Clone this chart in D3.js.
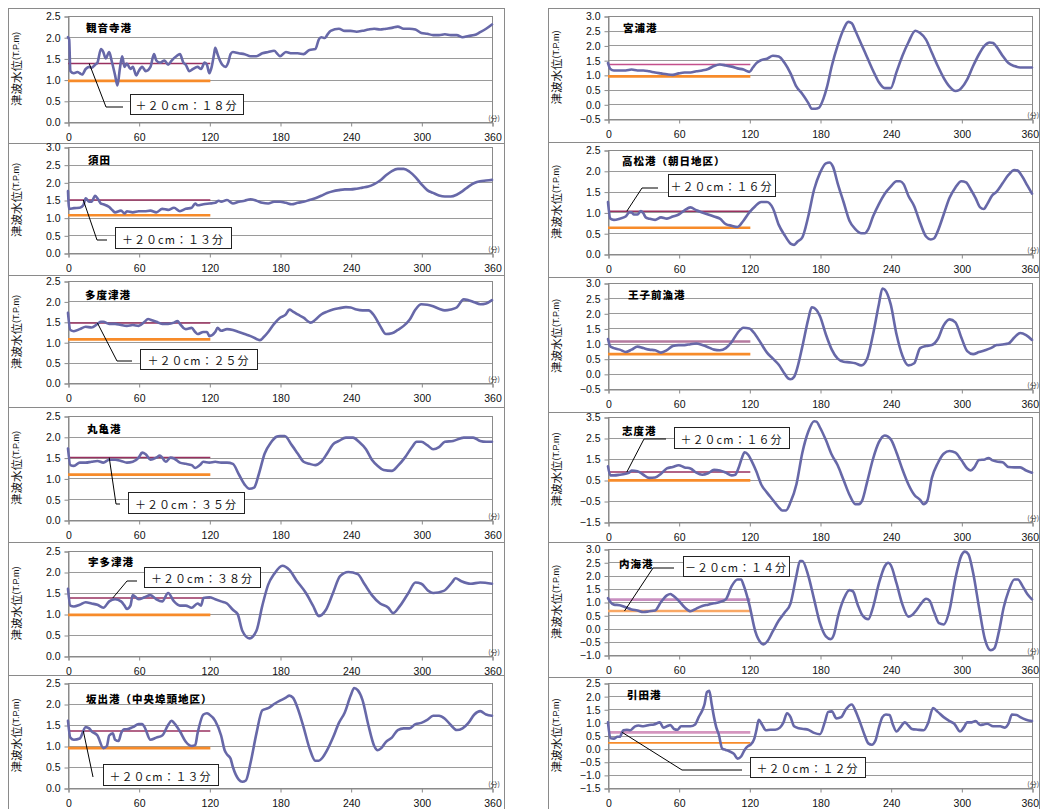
<!DOCTYPE html>
<html><head><meta charset="utf-8">
<script src="https://cdn.jsdelivr.net/npm/d3@7"></script>
<style>body{margin:0;background:#fff}svg{display:block}</style>
</head><body>
<svg id="c" width="1040" height="809"></svg>
<script>
// ---------------- DATA ----------------
const minuteTicks = [0, 60, 120, 180, 240, 300, 360];
const stationNames = ["観音寺港","須田","多度津港","丸亀港","宇多津港","坂出港（中央埠頭地区）",
                      "宮浦港","高松港（朝日地区）","王子前漁港","志度港","内海港","引田港"];
const yTickValues = [
  [0,0.5,1,1.5,2,2.5],
  [0,0.5,1,1.5,2,2.5,3],
  [0,0.5,1,1.5,2,2.5],
  [0,0.5,1,1.5,2,2.5],
  [0,0.5,1,1.5,2,2.5],
  [0,0.5,1,1.5,2,2.5],
  [-0.5,0,0.5,1,1.5,2,2.5,3],
  [0,0.5,1,1.5,2,2.5],
  [-0.5,0,0.5,1,1.5,2,2.5,3],
  [-1.5,-0.5,0.5,1.5,2.5,3.5],
  [-1,-0.5,0,0.5,1,1.5,2,2.5,3],
  [-1.5,-1,-0.5,0,0.5,1,1.5,2,2.5]
];
// +20cm level (upper) and base level (lower), T.P.m
const upperLevels = [1.38,1.5,1.47,1.5,1.38,1.36, 1.35,1.03,1.07,0.88,1.09,0.62];
const lowerLevels = [0.97,1.07,1.07,1.09,0.98,0.95, 0.95,0.63,0.65,0.48,0.66,0.22];
const arrivalMinutes = [18,13,25,35,38,13, null,16,null,16,14,12];
const arrivalLabels = ["＋２０cm：１８分","＋２０cm：１３分","＋２０cm：２５分","＋２０cm：３５分",
  "＋２０cm：３８分","＋２０cm：１３分",null,"＋２０cm：１６分",null,"＋２０cm：１６分",
  "－２０cm：１４分","＋２０cm：１２分"];

const kanonji = [[0,2.0],[1,1.95],[2,1.2],[5,1.15],[8,1.18],[10,1.15],[12,1.12],[15,1.25],[18,1.3],[20,1.28],[23,1.35],[25,1.4],[28,1.72],[30,1.65],[32,1.5],[35,1.65],[37,1.45],[40,1.1],[42,0.86],[44,1.25],[46,1.55],[48,1.3],[50,1.38],[53,1.25],[55,1.3],[58,1.1],[60,1.2],[63,1.3],[66,1.2],[70,1.3],[73,1.6],[75,1.45],[78,1.4],[82,1.45],[85,1.35],[88,1.45],[92,1.55],[95,1.6],[98,1.4],[100,1.35],[103,1.2],[106,1.25],[110,1.3],[113,1.25],[116,1.4],[118,1.35],[120,1.15],[122,1.3],[124,1.6],[125,1.75],[127,1.6],[129,1.45],[131,1.35],[134,1.3],[136,1.4],[138,1.6],[140,1.65],[145,1.62],[150,1.6],[155,1.55],[160,1.55],[165,1.62],[170,1.65],[175,1.68],[178,1.6],[180,1.55],[185,1.65],[190,1.62],[195,1.62],[200,1.6],[205,1.7],[210,1.72],[213,1.95],[215,2.0],[218,1.98],[220,2.05],[223,2.15],[230,2.2],[235,2.15],[240,2.15],[245,2.13],[250,2.15],[255,2.18],[260,2.2],[265,2.18],[270,2.2],[275,2.22],[280,2.25],[285,2.2],[290,2.2],[295,2.18],[300,2.1],[305,2.08],[310,2.05],[315,2.05],[320,2.07],[325,2.05],[330,2.05],[335,2.0],[340,2.03],[345,2.05],[350,2.12],[355,2.2],[360,2.3]];
const suda = [[0,1.75],[1,1.25],[5,1.27],[10,1.28],[13,1.35],[15,1.55],[18,1.45],[20,1.45],[23,1.62],[25,1.55],[28,1.4],[30,1.38],[35,1.3],[38,1.2],[40,1.15],[45,1.2],[48,1.12],[50,1.18],[55,1.15],[60,1.18],[65,1.18],[70,1.2],[75,1.15],[80,1.25],[85,1.22],[90,1.28],[95,1.18],[100,1.25],[105,1.28],[108,1.4],[110,1.35],[115,1.38],[120,1.4],[125,1.42],[128,1.48],[130,1.45],[135,1.5],[140,1.4],[145,1.45],[150,1.48],[155,1.52],[160,1.48],[165,1.42],[170,1.4],[175,1.45],[180,1.45],[185,1.42],[190,1.38],[195,1.42],[200,1.45],[205,1.5],[210,1.55],[215,1.62],[220,1.7],[225,1.75],[230,1.78],[235,1.8],[240,1.8],[245,1.82],[250,1.85],[255,1.88],[260,1.95],[265,2.05],[270,2.2],[275,2.32],[280,2.38],[285,2.38],[290,2.3],[295,2.15],[300,1.95],[305,1.78],[310,1.7],[315,1.63],[320,1.6],[325,1.6],[330,1.65],[335,1.75],[340,1.88],[345,1.98],[350,2.03],[355,2.05],[360,2.07]];
const tadotsu = [[0,1.72],[2,1.3],[5,1.27],[10,1.32],[15,1.38],[20,1.36],[25,1.45],[28,1.5],[30,1.5],[35,1.45],[40,1.45],[45,1.42],[50,1.4],[55,1.42],[60,1.4],[65,1.5],[68,1.57],[70,1.55],[75,1.5],[80,1.45],[85,1.45],[90,1.48],[93,1.52],[95,1.45],[98,1.35],[100,1.32],[105,1.35],[108,1.25],[110,1.2],[115,1.25],[118,1.25],[120,1.15],[125,1.25],[127,1.35],[130,1.28],[135,1.32],[140,1.3],[145,1.25],[150,1.2],[155,1.15],[160,1.08],[163,1.05],[166,1.12],[170,1.25],[175,1.45],[180,1.6],[185,1.68],[188,1.8],[191,1.75],[195,1.68],[200,1.6],[206,1.48],[210,1.55],[215,1.68],[220,1.75],[225,1.8],[230,1.83],[236,1.86],[240,1.85],[245,1.8],[250,1.78],[255,1.78],[260,1.65],[265,1.4],[270,1.2],[275,1.22],[280,1.3],[285,1.4],[290,1.55],[295,1.8],[300,1.93],[305,1.92],[310,1.88],[315,1.82],[320,1.78],[325,1.8],[330,1.85],[336,2.05],[340,2.03],[345,1.98],[350,1.93],[355,1.95],[360,2.03]];
const marugame = [[0,1.72],[2,1.32],[5,1.3],[10,1.38],[15,1.38],[20,1.4],[25,1.42],[30,1.38],[35,1.45],[40,1.45],[45,1.42],[50,1.38],[55,1.4],[60,1.5],[63,1.62],[66,1.58],[70,1.45],[75,1.5],[78,1.55],[80,1.5],[83,1.4],[87,1.5],[90,1.48],[95,1.38],[100,1.35],[105,1.32],[108,1.25],[112,1.32],[115,1.4],[120,1.38],[125,1.4],[130,1.38],[135,1.38],[140,1.35],[145,1.1],[150,0.85],[154,0.75],[158,0.78],[162,1.1],[167,1.6],[172,1.85],[177,2.0],[180,2.02],[184,2.02],[190,1.8],[195,1.6],[200,1.4],[205,1.35],[210,1.32],[215,1.4],[220,1.6],[225,1.82],[230,1.9],[236,1.98],[242,1.98],[247,1.88],[253,1.7],[258,1.45],[263,1.3],[268,1.2],[275,1.18],[280,1.3],[286,1.5],[292,1.75],[296,1.88],[300,1.88],[305,1.8],[310,1.7],[315,1.75],[320,1.88],[327,1.9],[336,1.98],[344,1.98],[350,1.9],[355,1.88],[360,1.88]];
const utazu = [[0,1.6],[2,1.2],[5,1.18],[10,1.22],[15,1.28],[20,1.25],[25,1.22],[30,1.15],[35,1.3],[40,1.35],[45,1.3],[48,1.2],[50,1.12],[53,1.2],[55,1.45],[60,1.35],[65,1.4],[70,1.45],[75,1.35],[80,1.3],[85,1.5],[90,1.3],[95,1.2],[100,1.2],[105,1.15],[110,1.25],[113,1.2],[115,1.38],[120,1.4],[125,1.35],[130,1.3],[135,1.25],[140,1.1],[144,1.0],[148,0.6],[154,0.42],[160,0.6],[165,1.2],[170,1.7],[175,1.95],[182,2.15],[188,2.05],[194,1.8],[202,1.5],[208,1.2],[213,0.95],[219,1.1],[225,1.5],[231,1.9],[238,2.0],[246,1.95],[252,1.7],[258,1.45],[265,1.25],[272,1.15],[276,1.02],[282,1.2],[289,1.5],[295,1.75],[300,1.72],[306,1.55],[310,1.5],[319,1.55],[326,1.75],[329,1.85],[334,1.78],[342,1.72],[350,1.75],[360,1.72]];
const sakaide = [[0,1.6],[2,1.2],[5,1.15],[10,1.18],[15,1.45],[18,1.42],[20,1.35],[25,1.25],[30,0.95],[33,1.0],[35,1.25],[38,1.3],[40,1.15],[43,1.12],[45,1.3],[48,1.4],[50,1.4],[55,1.45],[60,1.52],[63,1.52],[65,1.45],[70,1.15],[75,1.2],[80,1.25],[85,1.5],[88,1.6],[90,1.55],[95,1.35],[100,1.1],[105,1.0],[108,1.02],[110,1.3],[115,1.75],[118,1.78],[120,1.75],[125,1.6],[130,1.25],[133,0.9],[135,0.8],[138,0.7],[140,0.5],[145,0.2],[148,0.15],[151,0.18],[155,0.6],[160,1.3],[165,1.85],[170,1.9],[175,2.0],[180,2.08],[185,2.15],[188,2.2],[191,2.15],[195,1.9],[200,1.45],[205,0.95],[210,0.65],[213,0.65],[216,0.72],[220,0.9],[225,1.2],[230,1.55],[235,1.8],[240,2.2],[243,2.38],[246,2.33],[250,2.1],[255,1.5],[260,1.0],[263,0.9],[266,0.95],[270,1.1],[275,1.2],[280,1.38],[285,1.42],[290,1.42],[295,1.52],[300,1.55],[305,1.62],[310,1.72],[315,1.72],[320,1.65],[325,1.5],[330,1.38],[335,1.42],[340,1.55],[345,1.75],[350,1.83],[355,1.75],[360,1.72]];
const miyaura = [[0,1.4],[2,1.2],[5,1.15],[10,1.15],[15,1.15],[20,1.18],[25,1.15],[30,1.15],[35,1.12],[40,1.08],[45,1.05],[50,1.02],[55,1.0],[60,1.05],[65,1.08],[70,1.08],[75,1.12],[80,1.15],[85,1.2],[90,1.3],[95,1.35],[100,1.32],[105,1.28],[110,1.22],[115,1.18],[120,1.1],[123,1.25],[126,1.4],[130,1.5],[135,1.55],[140,1.65],[145,1.62],[150,1.4],[155,1.05],[160,0.6],[165,0.35],[170,0.05],[173,-0.15],[176,-0.15],[179,-0.12],[183,0.2],[186,0.6],[190,1.3],[195,2.0],[200,2.55],[204,2.8],[207,2.75],[210,2.5],[215,2.05],[220,1.6],[225,1.15],[230,0.75],[235,0.55],[240,0.55],[245,1.1],[250,1.65],[255,2.1],[261,2.5],[265,2.42],[270,2.2],[275,1.75],[280,1.3],[285,0.9],[290,0.6],[295,0.45],[298,0.48],[300,0.55],[305,0.85],[310,1.3],[315,1.7],[320,2.0],[324,2.1],[327,2.08],[330,1.95],[335,1.65],[340,1.4],[345,1.3],[350,1.25],[355,1.25],[360,1.25]];
const takamatsu = [[0,1.25],[2,0.85],[5,0.82],[10,0.85],[15,0.9],[18,1.0],[20,1.0],[22,0.95],[25,0.95],[28,1.03],[30,0.98],[32,0.88],[35,0.85],[40,0.82],[45,0.88],[50,0.85],[55,0.9],[60,0.95],[65,1.05],[70,1.12],[75,1.05],[80,1.0],[85,0.95],[90,0.9],[95,0.85],[100,0.72],[105,0.68],[110,0.65],[115,0.8],[120,1.0],[125,1.15],[130,1.25],[135,1.25],[140,1.1],[145,0.7],[150,0.45],[155,0.25],[158,0.22],[161,0.3],[165,0.4],[170,0.9],[175,1.55],[180,1.95],[185,2.18],[188,2.2],[191,2.1],[195,1.7],[200,1.25],[205,0.8],[210,0.6],[215,0.5],[218,0.5],[221,0.6],[225,0.9],[230,1.2],[235,1.45],[240,1.62],[245,1.75],[248,1.75],[251,1.68],[255,1.4],[260,1.15],[265,0.75],[270,0.42],[274,0.35],[277,0.38],[280,0.55],[285,0.95],[290,1.35],[295,1.6],[300,1.75],[304,1.72],[308,1.55],[312,1.35],[316,1.12],[319,1.08],[322,1.2],[326,1.4],[330,1.5],[335,1.7],[340,1.9],[345,2.02],[348,2.0],[352,1.85],[356,1.65],[360,1.45]];
const ojizen = [[0,1.15],[2,0.9],[5,0.85],[10,0.8],[15,0.72],[20,0.8],[25,0.9],[30,0.85],[35,0.8],[40,0.78],[45,0.7],[50,0.78],[55,0.92],[60,0.95],[65,0.95],[70,0.98],[75,1.0],[80,0.95],[85,0.88],[90,0.8],[95,0.78],[100,0.85],[105,1.05],[110,1.35],[115,1.52],[120,1.5],[125,1.3],[130,1.0],[135,0.7],[140,0.5],[145,0.3],[150,0.0],[153,-0.15],[155,-0.18],[158,-0.1],[160,0.1],[165,0.9],[170,1.8],[173,2.2],[175,2.18],[180,1.9],[185,1.3],[190,0.8],[195,0.5],[200,0.4],[205,0.38],[210,0.35],[215,0.28],[220,0.5],[225,1.3],[230,2.3],[233,2.82],[235,2.78],[240,2.3],[245,1.3],[250,0.6],[255,0.28],[260,0.35],[265,0.85],[270,0.92],[275,0.95],[280,1.15],[285,1.6],[290,1.8],[295,1.7],[300,1.2],[305,0.75],[310,0.65],[315,0.72],[320,0.78],[325,0.85],[330,0.95],[335,0.97],[340,1.0],[345,1.2],[350,1.35],[355,1.28],[360,1.12]];
const shido = [[0,1.15],[2,0.72],[5,0.72],[10,0.75],[15,0.8],[18,0.85],[20,0.95],[25,0.92],[30,0.75],[35,0.6],[40,0.62],[45,0.8],[50,1.05],[55,1.12],[60,1.2],[65,1.1],[70,1.05],[75,0.85],[80,0.75],[85,0.82],[90,0.98],[95,0.95],[100,0.85],[105,0.72],[108,0.75],[111,1.1],[114,1.6],[116,1.82],[119,1.7],[122,1.4],[126,0.9],[130,0.3],[135,-0.1],[140,-0.45],[145,-0.8],[148,-0.95],[151,-0.95],[155,-0.55],[160,0.3],[165,1.8],[170,2.8],[175,3.3],[177,3.28],[180,3.0],[185,2.4],[190,1.7],[195,1.2],[200,0.5],[205,-0.2],[210,-0.65],[213,-0.65],[216,-0.45],[220,0.4],[225,1.5],[230,2.3],[235,2.62],[240,2.45],[245,1.8],[250,1.0],[255,0.3],[260,-0.2],[265,-0.45],[268,-0.65],[271,-0.5],[275,0.6],[280,1.3],[285,1.75],[290,1.88],[295,1.8],[300,1.45],[305,1.05],[308,0.95],[311,1.1],[315,1.45],[320,1.48],[323,1.55],[326,1.45],[330,1.38],[335,1.35],[340,1.12],[345,1.1],[350,1.1],[355,0.95],[360,0.85]];
const uchinomi = [[0,1.15],[2,1.0],[5,0.9],[10,0.88],[15,0.8],[20,0.72],[25,0.68],[30,0.62],[35,0.65],[40,0.68],[45,1.0],[50,1.25],[53,1.3],[55,1.25],[60,1.05],[65,0.8],[70,0.65],[75,0.75],[80,0.85],[85,0.9],[90,0.95],[95,1.0],[100,1.1],[105,1.6],[110,1.85],[113,1.85],[115,1.65],[120,0.9],[125,-0.1],[130,-0.55],[132,-0.6],[135,-0.5],[140,-0.1],[145,0.3],[150,0.6],[155,0.95],[160,2.0],[163,2.55],[165,2.55],[170,2.0],[175,1.1],[180,0.2],[185,-0.3],[189,-0.4],[192,-0.2],[195,0.4],[200,1.1],[205,1.45],[208,1.4],[212,0.9],[216,0.5],[221,0.35],[225,0.8],[230,1.7],[235,2.35],[238,2.48],[240,2.4],[245,1.7],[250,0.9],[255,0.45],[258,0.5],[262,0.7],[266,0.95],[270,1.12],[273,1.05],[277,0.6],[281,0.2],[285,0.15],[290,0.7],[295,1.9],[300,2.75],[303,2.9],[306,2.8],[310,2.1],[315,0.8],[320,-0.4],[325,-0.82],[328,-0.75],[332,-0.1],[336,0.8],[340,1.4],[345,1.85],[348,1.85],[352,1.6],[356,1.3],[360,1.1]];
const hiketa = [[0,1.0],[2,0.4],[5,0.38],[8,0.45],[10,0.45],[13,0.7],[16,0.72],[19,0.7],[23,0.85],[26,0.88],[30,0.85],[35,0.9],[39,0.92],[44,1.0],[47,0.8],[50,0.85],[53,0.9],[56,0.75],[59,0.72],[62,0.85],[66,0.85],[70,0.85],[74,0.92],[77,1.2],[80,1.45],[82,1.7],[84,2.15],[86,2.2],[88,1.7],[90,1.2],[92,0.8],[94,0.55],[97,0.0],[100,-0.05],[103,-0.1],[107,-0.2],[110,-0.38],[113,-0.3],[116,-0.05],[119,0.1],[121,0.15],[124,0.35],[126,0.7],[128,1.1],[131,0.9],[134,0.7],[138,0.72],[142,0.72],[146,0.8],[149,1.0],[152,1.35],[155,1.2],[158,0.85],[162,0.78],[166,0.75],[170,0.72],[175,0.6],[180,0.55],[184,1.0],[187,1.4],[190,1.42],[194,1.15],[198,1.2],[202,1.5],[207,1.68],[210,1.45],[214,1.0],[218,0.5],[221,0.2],[224,0.15],[227,0.3],[230,0.8],[233,1.2],[236,1.3],[239,1.28],[242,0.9],[245,0.65],[248,0.8],[252,1.0],[255,0.88],[258,0.75],[263,0.72],[268,0.7],[272,1.0],[276,1.55],[280,1.4],[285,1.2],[290,1.05],[294,0.95],[299,0.65],[302,0.8],[305,1.0],[309,1.0],[312,1.05],[316,0.9],[319,0.92],[322,0.95],[327,0.85],[333,0.85],[337,0.8],[340,0.95],[343,1.3],[347,1.28],[350,1.2],[355,1.1],[360,1.05]];

const seriesList = [kanonji, suda, tadotsu, marugame, utazu, sakaide,
                    miyaura, takamatsu, ojizen, shido, uchinomi, hiketa];

// ---------------- LAYOUT ----------------
const colL = {x0:68, x1:492, fx0:8, fx1:504, titleX:16, right:false};
const colR = {x0:608, x1:1032, fx0:548, fx1:1039, titleX:556, right:true};
const layout = [
  {c:colL, top:16,  bot:122, ftop:8,   fbot:143, nx:86,  ny:27,  box:[130,94,113,20],  elbow:[[106,107],[123,107]]},
  {c:colL, top:147, bot:253, ftop:143, fbot:275, nx:88,  ny:159, box:[115,227,116,21], elbow:[[97,240],[107,240]]},
  {c:colL, top:281, bot:383, ftop:275, fbot:407, nx:85,  ny:294, box:[140,349,117,20], elbow:[[117,361],[132,361]]},
  {c:colL, top:416, bot:520, ftop:407, fbot:542, nx:87,  ny:428, box:[128,492,116,21], elbow:[[116,504],[120,504]]},
  {c:colL, top:551, bot:656, ftop:542, fbot:675, nx:88,  ny:561, box:[144,567,116,20], elbow:[[127,581],[137,581]]},
  {c:colL, top:683, bot:788, ftop:675, fbot:815, nx:86,  ny:698, box:[103,764,115,21], elbow:[[93,777]]},
  {c:colR, top:16,  bot:119, ftop:8,   fbot:142, nx:623, ny:27,  up:"#c4508c", upW:1.5},
  {c:colR, top:150, bot:254, ftop:142, fbot:277, nx:622, ny:160, box:[668,174,107,22], elbow:[[642,188],[658,188]]},
  {c:colR, top:283, bot:389, ftop:277, fbot:412, nx:628, ny:294, up:"#b57a9f", upW:2.6},
  {c:colR, top:417, bot:522, ftop:412, fbot:542, nx:622, ny:430, box:[674,427,115,21], elbow:[[644,439],[666,439]]},
  {c:colR, top:549, bot:655, ftop:542, fbot:677, nx:619, ny:563, box:[683,556,106,20], elbow:[[653,568],[674,568]], up:"#c98fc0", upW:2.6, lo:"#f9a865"},
  {c:colR, top:683, bot:788, ftop:677, fbot:815, nx:627, ny:694, box:[750,757,115,20], elbow:[[682,770],[742,770]], up:"#d596bf", upW:2.6, loW:1.6}
];

const svg = d3.select("#c");
const fmt = d3.format(".1f");
const numFont = "'Liberation Sans', Arial, sans-serif";
const jpFont = "'Noto Sans CJK JP', sans-serif";

seriesList.forEach((data, i) => {
  const L = layout[i], c = L.c;
  const ticks = yTickValues[i];
  const x = d3.scaleLinear().domain([0, 360]).range([c.x0, c.x1]);
  const y = d3.scaleLinear().domain([d3.min(ticks), d3.max(ticks)]).range([L.bot, L.top]);
  const g = svg.append("g");

  // outer frame
  g.append("rect").attr("x", c.fx0 + 0.5).attr("y", L.ftop + 0.5)
    .attr("width", c.fx1 - c.fx0).attr("height", L.fbot - L.ftop)
    .attr("fill", "none").attr("stroke", "#8a8a8a").attr("stroke-width", 1);

  // gridlines
  g.selectAll("line.grid").data(ticks).enter().append("line")
    .attr("x1", c.x0).attr("x2", c.x1)
    .attr("y1", d => Math.round(y(d)) + 0.5).attr("y2", d => Math.round(y(d)) + 0.5)
    .attr("stroke", "#9a9a9a").attr("stroke-width", 1);
  // plot border
  g.append("rect").attr("x", c.x0 + 0.5).attr("y", L.top + 0.5)
    .attr("width", c.x1 - c.x0).attr("height", L.bot - L.top)
    .attr("fill", "none").attr("stroke", "#8a8a8a");

  // axes
  const ya = g.append("g").attr("transform", `translate(${c.x0 + 0.5},0.5)`)
    .call(d3.axisLeft(y).tickValues(ticks).tickSize(4).tickPadding(4).tickFormat(fmt));
  const xa = g.append("g").attr("transform", `translate(0.5,${L.bot + 0.5})`)
    .call(d3.axisBottom(x).tickValues(minuteTicks).tickSize(4).tickPadding(7));
  [ya, xa].forEach(a => {
    a.selectAll("path,line").attr("stroke", "#8a8a8a");
    a.selectAll("text").attr("fill", "#111").style("font-family", numFont).style("font-size", "10.5px");
  });
  if (c.right) {
    // keep the last minute label inside the page edge
    xa.selectAll(".tick text").filter(d => d === 360).attr("text-anchor", "end").attr("x", 6);
  }

  // unit label
  g.append("text").attr("x", c.right ? 1039 : c.x1 + 2).attr("y", L.bot - 1)
    .attr("text-anchor", c.right ? "end" : "middle").style("font-family", jpFont).style("font-size", "7px")
    .attr("fill", "#333").text("(分)");

  // y title
  const tt = g.append("text")
    .attr("transform", `translate(${c.titleX},${(L.top + L.bot) / 2}) rotate(-90)`)
    .attr("text-anchor", "middle").attr("dominant-baseline", "central")
    .style("font-family", jpFont).style("font-size", "11.5px").attr("fill", "#111");
  tt.append("tspan").text("津波水位");
  tt.append("tspan").style("font-family", numFont).style("font-size", "9px").text("(T.P.m)");

  // threshold lines (0–120 min)
  g.append("line").attr("x1", x(0)).attr("x2", x(120) + 1)
    .attr("y1", y(lowerLevels[i])).attr("y2", y(lowerLevels[i]))
    .attr("stroke", L.lo || "#f78b2a").attr("stroke-width", L.loW || 2.6);
  g.append("line").attr("x1", x(0)).attr("x2", x(120) + 1)
    .attr("y1", y(upperLevels[i])).attr("y2", y(upperLevels[i]))
    .attr("stroke", L.up || "#99305f").attr("stroke-width", L.upW || 1.5);

  // series
  const line = d3.line().x(d => x(d[0])).y(d => y(d[1])).curve(d3.curveMonotoneX);
  g.append("path").datum(data).attr("d", line)
    .attr("fill", "none").attr("stroke", "#6768a8").attr("stroke-width", 2.6)
    .attr("stroke-linejoin", "round").attr("stroke-linecap", "round");

  // station name
  g.append("text").attr("x", L.nx).attr("y", L.ny).attr("dominant-baseline", "central")
    .style("font-family", jpFont).style("font-weight", 900).style("font-size", "10.5px")
    .style("letter-spacing", "1px").attr("fill", "#000").text(stationNames[i]);

  // annotation
  if (arrivalMinutes[i] !== null) {
    const lvl = arrivalLabels[i].startsWith("－") ? lowerLevels[i] : upperLevels[i];
    const pts = [[x(arrivalMinutes[i]), y(lvl)]].concat(L.elbow);
    g.append("path").attr("d", d3.line()(pts)).attr("fill", "none")
      .attr("stroke", "#000").attr("stroke-width", 1);
    const b = L.box;
    g.append("rect").attr("x", b[0] + 0.5).attr("y", b[1] + 0.5).attr("width", b[2]).attr("height", b[3])
      .attr("fill", "#fff").attr("stroke", "#222").attr("stroke-width", 1);
    g.append("text").attr("x", b[0] + b[2] / 2).attr("y", b[1] + b[3] / 2 + 1)
      .attr("text-anchor", "middle").attr("dominant-baseline", "central")
      .style("font-family", jpFont).style("font-size", "11px").style("letter-spacing", "1px")
      .attr("fill", "#111").text(arrivalLabels[i]);
  }
});
</script>
</body></html>
